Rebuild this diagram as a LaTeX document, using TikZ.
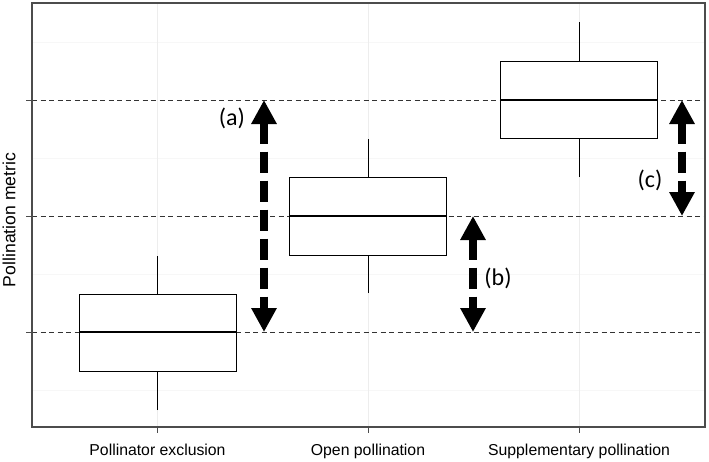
\documentclass[tikz,border=0pt]{standalone}
\usepackage{fontspec}
\setmainfont{Liberation Sans}
\newfontfamily\labelfont{Carlito}
\usetikzlibrary{arrows.meta}

\tikzset{
	gridminor/.style={draw=black!3, line width=0.6pt},
	gridmajor/.style={draw=black!7, line width=0.8pt},
	refline/.style={draw=black!80, line width=1pt, dash pattern=on 5pt off 3.5pt},
	boxline/.style={draw=black, line width=0.9pt},
	medianline/.style={draw=black, line width=2.6pt},
	axisline/.style={draw=black!70, line width=1.3pt},
	bigarrow/.style={line width=8pt, dash pattern=on 21pt off 8pt,
		{Triangle[width=24pt,length=24pt]}-{Triangle[width=24pt,length=24pt]}},
	axislabel/.style={font=\fontsize{15.8}{18}\selectfont, anchor=base},
	axistitle/.style={font=\fontsize{17.6}{20}\selectfont, anchor=base, rotate=90},
	letterlabel/.style={font=\labelfont\fontsize{24}{28}\selectfont}
}

\begin{document}
\begin{tikzpicture}[x=1pt,y=-1pt]
	\useasboundingbox (0,0) rectangle (709,461);

	% grid
	\foreach \y in {42,158,274,390}
		\draw [gridminor] (32,\y) -- (705,\y);
	\foreach \x in {157.5,368,579}
		\draw [gridmajor] (\x,3) -- (\x,427);

	% reference lines
	\foreach \y in {100,216,332} {
		\draw [refline] (32,\y) -- (705,\y);
		\draw [axisline, line width=1pt] (26,\y) -- (32,\y);
	}

	% boxes: centre, whisker low, q1, median, q3, whisker high
	\foreach \c/\wl/\qa/\md/\qb/\wh in {157.5/410/371/332/294/256, 368/293/255/216/177/139, 579/177/138/100/61/22} {
		\draw [boxline] (\c,\wl) -- (\c,\qa);
		\draw [boxline] (\c,\qb) -- (\c,\wh);
		\draw [boxline, fill=white] (\c-78.5,\qb) rectangle (\c+78.5,\qa);
		\draw [medianline] (\c-78.5,\md) -- (\c+78.5,\md);
		\draw [axisline, line width=1pt] (\c,427) -- (\c,433);
	}

	% panel
	\draw [axisline] (32,3) rectangle (705,427);

	% arrows
	\coordinate (a top) at (264,100);
	\coordinate (a bot) at (264,332);
	\coordinate (b top) at (473,216);
	\coordinate (b bot) at (473,332);
	\coordinate (c top) at (682,100);
	\coordinate (c bot) at (682,216);
	\draw [bigarrow] (a top) -- (a bot);
	\draw [bigarrow] (b top) -- (b bot);
	\draw [bigarrow] (c top) -- (c bot);
	\node [letterlabel] (a lab) at (232,118) {(a)};
	\node [letterlabel] (b lab) at (498,278) {(b)};
	\node [letterlabel] (c lab) at (650,180) {(c)};

	% axis texts
	\node [axislabel] (x1) at (157.5,455) {Pollinator exclusion};
	\node [axislabel] (x2) at (368,455) {Open pollination};
	\node [axislabel] (x3) at (579,455) {Supplementary pollination};
	\node [axistitle] (ytitle) at (15.5,220) {Pollination metric};
\end{tikzpicture}
\end{document}
